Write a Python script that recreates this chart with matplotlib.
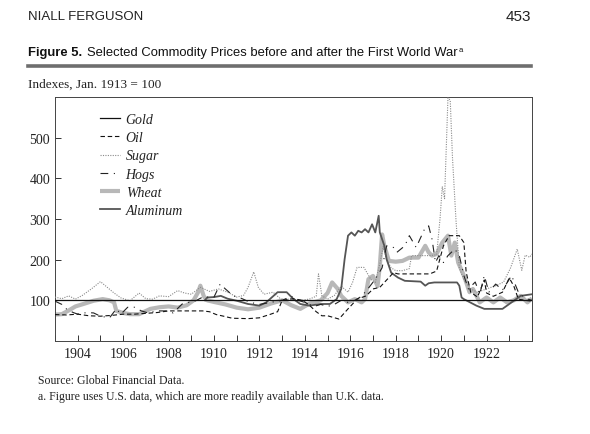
import matplotlib
matplotlib.use('Agg')
import matplotlib.pyplot as plt
from matplotlib import font_manager
from matplotlib.lines import Line2D
from matplotlib.ticker import MultipleLocator

# Donnees (annee, indice Jan. 1913 = 100)
gold_x = [1903.0, 1924.0]
gold_y = [100, 100]

oil_x = [1903.0, 1903.5, 1904.0, 1904.5, 1905.0, 1905.5, 1906.0, 1906.5, 1907.0, 1907.5,
         1908.0, 1908.5, 1909.0, 1909.5, 1909.8, 1910.1, 1910.5, 1910.8, 1911.5, 1912.0,
         1912.5, 1912.8, 1913.0, 1913.5, 1913.9, 1914.2, 1914.5, 1914.75, 1915.0, 1915.5,
         1915.9, 1916.3, 1916.7, 1917.0, 1917.3, 1917.6, 1917.9, 1918.1, 1918.5, 1919.0,
         1919.5, 1919.8, 1920.1, 1920.35, 1920.8, 1921.0, 1921.1, 1921.3, 1921.6, 1921.9,
         1922.0, 1922.3, 1922.7, 1923.0, 1923.2, 1923.4, 1923.7, 1924.0]
oil_y = [65, 64, 66, 62, 61, 63, 66, 66, 68, 70,
         74, 74, 74, 74, 72, 65, 60, 56, 55, 57,
         66, 72, 100, 104, 100, 88, 72, 62, 62, 54,
         79, 103, 111, 128, 132, 150, 168, 165, 165, 165,
         165, 172, 234, 259, 259, 242, 170, 120, 108, 150,
         118, 110, 120, 155, 135, 103, 100, 98]

sugar_x = [1903.0, 1903.3, 1903.6, 1903.9, 1904.2, 1904.6, 1905.0, 1905.3, 1905.6, 1905.9,
           1906.3, 1906.7, 1907.0, 1907.3, 1907.6, 1908.0, 1908.4, 1908.7, 1909.0, 1909.4,
           1909.8, 1910.2, 1910.6, 1911.0, 1911.3, 1911.5, 1911.75, 1911.95, 1912.2, 1912.6,
           1913.0, 1913.4, 1913.8, 1914.2, 1914.5, 1914.6, 1914.75, 1915.0, 1915.3, 1915.6,
           1915.9, 1916.1, 1916.3, 1916.6, 1916.9, 1917.1, 1917.3, 1917.45, 1917.6, 1917.8,
           1918.0, 1918.3, 1918.6, 1918.7, 1919.0, 1919.5, 1919.8, 1919.95, 1920.05, 1920.15,
           1920.3, 1920.4, 1920.5, 1920.65, 1920.8, 1921.0, 1921.3, 1921.6, 1922.0, 1922.45,
           1922.75, 1923.05, 1923.35, 1923.55, 1923.7, 1923.9, 1924.0]
sugar_y = [108, 104, 111, 103, 112, 128, 146, 132, 118, 106,
           99, 118, 104, 103, 111, 109, 124, 118, 115, 132,
           122, 128, 120, 108, 112, 132, 170, 132, 115, 120,
           100, 104, 100, 103, 110, 165, 111, 103, 112, 135,
           120, 144, 181, 181, 152, 144, 190, 232, 200, 180,
           173, 173, 178, 210, 210, 210, 212, 300, 380, 350,
           598, 592, 450, 300, 180, 150, 128, 120, 128, 137,
           145, 179, 226, 174, 211, 206, 214]

hogs_x = [1903.0, 1903.3, 1903.5, 1903.8, 1904.0, 1904.4, 1904.7, 1905.0, 1905.4, 1905.7,
          1905.9, 1906.2, 1906.5, 1906.8, 1907.1, 1907.5, 1907.9, 1908.2, 1908.6, 1909.2,
          1909.5, 1910.0, 1910.27, 1910.5, 1910.85, 1911.2, 1911.6, 1912.0, 1912.5, 1913.0,
          1913.4, 1913.7, 1914.0, 1914.4, 1914.7, 1915.0, 1915.3, 1915.6, 1915.9, 1916.2,
          1916.5, 1916.8, 1917.1, 1917.4, 1917.6, 1917.9, 1918.05, 1918.4, 1918.6, 1918.9,
          1919.3, 1919.45, 1919.6, 1919.75, 1919.9, 1920.1, 1920.3, 1920.6, 1920.8, 1921.0,
          1921.2, 1921.5, 1921.7, 1921.9, 1922.1, 1922.4, 1922.7, 1923.1, 1923.4, 1923.7,
          1924.0]
hogs_y = [98, 90, 79, 70, 66, 70, 69, 61, 57, 79,
          66, 83, 83, 74, 69, 74, 74, 69, 91, 99,
          108, 108, 140, 128, 111, 105, 95, 90, 95, 100,
          110, 100, 95, 85, 90, 85, 90, 100, 95, 100,
          110, 130, 152, 180, 234, 230, 218, 234, 259, 230,
          279, 283, 250, 193, 210, 193, 210, 226, 210, 161,
          128, 145, 115, 161, 120, 140, 125, 161, 120, 105,
          100]

wheat_x = [1903.0, 1903.3, 1903.6, 1903.9, 1904.25, 1904.7, 1905.1, 1905.4, 1905.6, 1905.7,
           1906.0, 1906.3, 1906.7, 1907.2, 1907.6, 1908.0, 1908.4, 1908.8, 1909.1, 1909.3,
           1909.4, 1909.55, 1909.7, 1910.0, 1910.5, 1911.0, 1911.5, 1912.0, 1912.5, 1913.0,
           1913.4, 1913.8, 1914.2, 1914.7, 1915.0, 1915.2, 1915.45, 1915.6, 1915.9, 1916.2,
           1916.5, 1916.65, 1916.8, 1917.0, 1917.2, 1917.3, 1917.4, 1917.5, 1917.7, 1918.0,
           1918.3, 1918.6, 1919.0, 1919.3, 1919.45, 1919.6, 1919.8, 1920.05, 1920.3, 1920.45,
           1920.6, 1920.75, 1921.0, 1921.1, 1921.25, 1921.4, 1921.7, 1922.0, 1922.3, 1922.6,
           1922.9, 1923.2, 1923.5, 1923.8, 1924.0]
wheat_y = [65, 66, 75, 85, 91, 99, 103, 100, 95, 74,
           69, 66, 66, 79, 83, 85, 82, 88, 100, 120,
           136, 110, 100, 96, 90, 82, 78, 82, 92, 100,
           88, 79, 92, 100, 118, 144, 128, 111, 95, 103,
           95, 103, 152, 160, 135, 185, 262, 234, 197, 195,
           197, 205, 205, 234, 218, 210, 214, 242, 259, 210,
           242, 193, 161, 145, 120, 128, 95, 107, 95, 107,
           95, 100, 111, 95, 105]

alu_x = [1909.6, 1909.7, 1910.0, 1910.3, 1910.6, 1911.0, 1911.5, 1912.0, 1912.3, 1912.6,
         1912.8, 1913.2, 1913.5, 1913.8, 1914.2, 1914.7, 1915.1, 1915.4, 1915.6, 1915.75,
         1915.9, 1916.05, 1916.2, 1916.35, 1916.5, 1916.65, 1916.8, 1916.96, 1917.1, 1917.25,
         1917.3, 1917.5, 1917.6, 1917.8, 1918.1, 1918.4, 1919.1, 1919.3, 1919.45, 1919.7,
         1920.7, 1920.8, 1920.9, 1921.0, 1921.55, 1921.9, 1922.7, 1923.0, 1923.5, 1924.0]
alu_y = [100, 107, 108, 111, 104, 99, 91, 87, 95, 110,
         120, 120, 103, 91, 87, 91, 91, 103, 128, 201,
         259, 267, 259, 271, 267, 275, 267, 287, 267, 308,
         267, 234, 201, 168, 156, 148, 146, 136, 142, 144,
         144, 136, 107, 103, 87, 79, 79, 91, 111, 115]

x_ticks = [1904, 1906, 1908, 1910, 1912, 1914, 1916, 1918, 1920, 1922]
y_ticks = [100, 200, 300, 400, 500]

# Polices
noms = {f.name for f in font_manager.fontManager.ttflist}
sans_etroite = 'Liberation Sans Narrow' if 'Liberation Sans Narrow' in noms else 'Liberation Sans'
serif = 'Liberation Serif'

W, H = 590, 435
fig = plt.figure(figsize=(W / 100, H / 100), dpi=100)
fig.patch.set_facecolor('white')


def fx(px):
    return px / W


def fy(py):
    return 1 - py / H


ax = fig.add_axes([fx(55), fy(342), fx(532) - fx(55), fy(98) - fy(342)])

ax.plot(gold_x, gold_y, color='#111111', lw=0.9, label='Gold', zorder=5)
ax.plot(oil_x, oil_y, color='#111111', lw=0.8, dashes=(4, 2.5), label='Oil', zorder=4)
ax.plot(sugar_x, sugar_y, color='#8a8a8a', lw=0.8, ls=(0, (1, 1.2)), label='Sugar', zorder=3)
ax.plot(hogs_x, hogs_y, color='#222222', lw=0.8, dashes=(7, 5, 1, 5), label='Hogs', zorder=4)
ax.plot(wheat_x, wheat_y, color='#b8b8b8', lw=3.0, label='Wheat', zorder=2,
        solid_capstyle='butt')
ax.plot(alu_x, alu_y, color='#555555', lw=1.3, label='Aluminum', zorder=3)

ax.set_xlim(1903, 1924)
ax.set_ylim(0, 600)
ax.set_xticks(x_ticks)
ax.xaxis.set_minor_locator(MultipleLocator(1))
ax.set_yticks(y_ticks)
ax.tick_params(which='both', direction='in', length=4, width=0.7, colors='#333333',
               labelsize=10, labelcolor='#222222')
ax.tick_params(axis='x', pad=4)
for lab in ax.get_xticklabels() + ax.get_yticklabels():
    lab.set_family(serif)
for sp in ax.spines.values():
    sp.set_linewidth(0.7)
    sp.set_color('#444444')

leg = ax.legend(loc='upper left', bbox_to_anchor=(0.068, 0.985), frameon=False,
                handlelength=1.45, handletextpad=0.4, labelspacing=0.37,
                prop={'family': serif, 'style': 'italic', 'size': 10})
for t in leg.get_texts():
    t.set_color('#222222')

# En-tete de page
fig.text(fx(28), fy(17), 'NIALL FERGUSON', family=sans_etroite, fontsize=9.5,
         color='#222222', va='center', ha='left')
fig.text(fx(531), fy(17), '453', family=sans_etroite, fontsize=11,
         color='#222222', va='center', ha='right')

# Titre de la figure
t1 = fig.text(fx(28), fy(53), 'Figure 5.', family=sans_etroite, fontsize=9.4,
              weight='bold', color='#111111', va='center', ha='left')
rend = fig.canvas.get_renderer()
bb = t1.get_window_extent(renderer=rend)
t2 = fig.text(bb.x1 / W + fx(5), fy(53),
              'Selected Commodity Prices before and after the First World War',
              family=sans_etroite, fontsize=9.4, color='#111111', va='center', ha='left')
bb2 = t2.get_window_extent(renderer=rend)
fig.text(bb2.x1 / W + fx(1), fy(50), 'a', family=sans_etroite, fontsize=5.5,
         color='#111111', va='center', ha='left')

fig.add_artist(Line2D([fx(28), fx(531)], [fy(67), fy(67)], color='#6e6e6e', lw=2.6))

fig.text(fx(28), fy(85), 'Indexes, Jan. 1913 = 100', family=serif, fontsize=9.5,
         color='#222222', va='center', ha='left')

# Notes
fig.text(fx(38), fy(381), 'Source: Global Financial Data.', family=serif, fontsize=8.5,
         color='#222222', va='center', ha='left')
fig.text(fx(38), fy(397),
         'a. Figure uses U.S. data, which are more readily available than U.K. data.',
         family=serif, fontsize=8.5, color='#222222', va='center', ha='left')

fig.savefig('out.png', dpi=100, facecolor='white')
